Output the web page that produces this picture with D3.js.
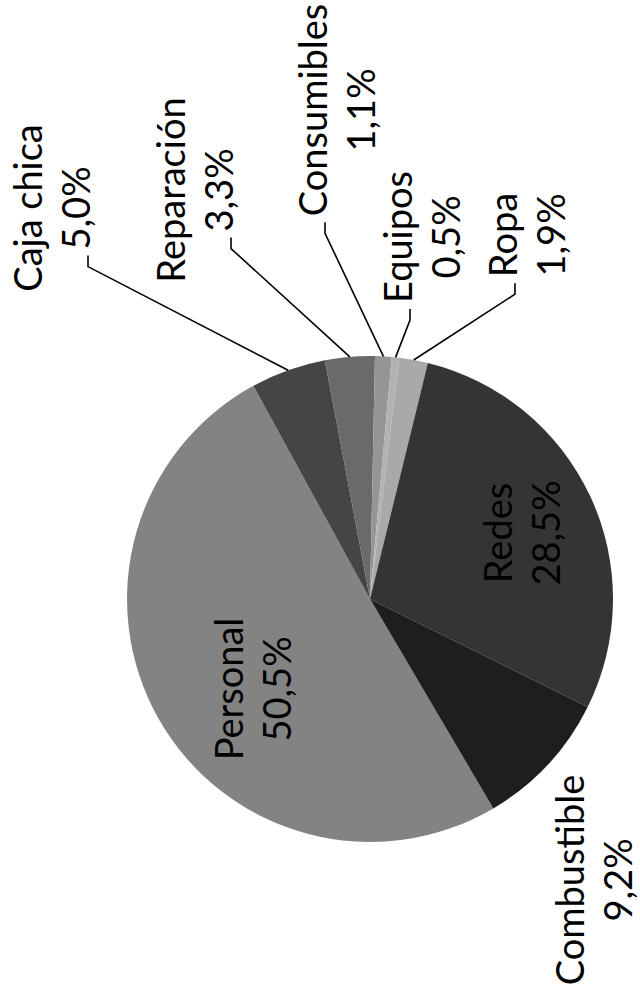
<!DOCTYPE html>
<html>
<head>
<meta charset="utf-8">
<script src="https://cdn.jsdelivr.net/npm/d3@7"></script>
<style>
  body { margin: 0; background: #fff; }
  svg text { font-family: Lato, "Open Sans", sans-serif; fill: #000; }
</style>
</head>
<body>
<div id="chart"></div>
<script>
// slice order, clockwise starting at Personal
var categories = ["Personal", "Caja chica", "Reparación", "Consumibles", "Equipos", "Ropa", "Redes", "Combustible"];
var values = [50.5, 5.0, 3.3, 1.1, 0.5, 1.9, 28.5, 9.2];
var valueLabels = ["50,5%", "5,0%", "3,3%", "1,1%", "0,5%", "1,9%", "28,5%", "9,2%"];
var greys = ["#838383", "#454545", "#6a6a6a", "#959595", "#b2b2b2", "#a9a9a9", "#343434", "#1e1e1e"];

// label placement: [x of first baseline, y centre, line the leader hooks to (-1 = none)]
var labelLayout = {
  "Personal":    [243, 689, -1],
  "Caja chica":  [42, 208, 1],
  "Reparación":  [185, 190, 1],
  "Consumibles": [327, 110, 0],
  "Equipos":     [412, 237, 0],
  "Ropa":        [517, 235, 0],
  "Redes":       [512, 533, -1],
  "Combustible": [584, 880, -1]
};

var width = 640, height = 997;
var cx = 370, cy = 599, radius = 243;
var lineGap = 48;

var svg = d3.select("#chart").append("svg")
  .attr("width", width)
  .attr("height", height);

var data = categories.map(function(c, i) {
  return { name: c, value: values[i], label: valueLabels[i], color: greys[i] };
});

var pie = d3.pie()
  .sort(null)
  .value(function(d) { return d.value; })
  .startAngle(149.5 * Math.PI / 180)
  .endAngle(149.5 * Math.PI / 180 + 2 * Math.PI);

var arc = d3.arc().innerRadius(0).outerRadius(radius);
var edge = d3.arc().innerRadius(radius).outerRadius(radius);

var g = svg.append("g").attr("transform", "translate(" + cx + "," + cy + ")");

var arcs = pie(data);

g.selectAll("path.slice")
  .data(arcs)
  .enter().append("path")
  .attr("class", "slice")
  .attr("d", arc)
  .style("fill", function(d) { return d.data.color; });

// labels, turned a quarter left so they read upwards
var labels = svg.selectAll("g.label")
  .data(arcs)
  .enter().append("g")
  .attr("class", "label")
  .attr("transform", function(d) {
    var p = labelLayout[d.data.name];
    return "translate(" + p[0] + "," + p[1] + ") rotate(-90)";
  });

labels.each(function(d) {
  var t = d3.select(this).append("text")
    .attr("text-anchor", "middle")
    .style("font-size", "38px");
  t.append("tspan").attr("x", 0).attr("y", 0).text(d.data.name);
  t.append("tspan").attr("x", 0).attr("y", lineGap).text(d.data.label);
});

// leader lines: short hook under the label, then straight to the slice edge
var leaders = svg.append("g");
labels.each(function(d) {
  var p = labelLayout[d.data.name];
  if (p[2] < 0) return;
  var span = d3.select(this).selectAll("tspan").nodes()[p[2]];
  var half = span.getComputedTextLength() / 2;
  var hx = p[0] + p[2] * lineGap - 2;
  var y0 = p[1] + half + 6;
  var y1 = y0 + 11;
  var e = edge.centroid(d);
  leaders.append("path")
    .attr("d", d3.line()([[hx, y0], [hx, y1], [cx + e[0], cy + e[1]]]))
    .style("fill", "none")
    .style("stroke", "#000")
    .style("stroke-width", 1.6);
});
</script>
</body>
</html>
